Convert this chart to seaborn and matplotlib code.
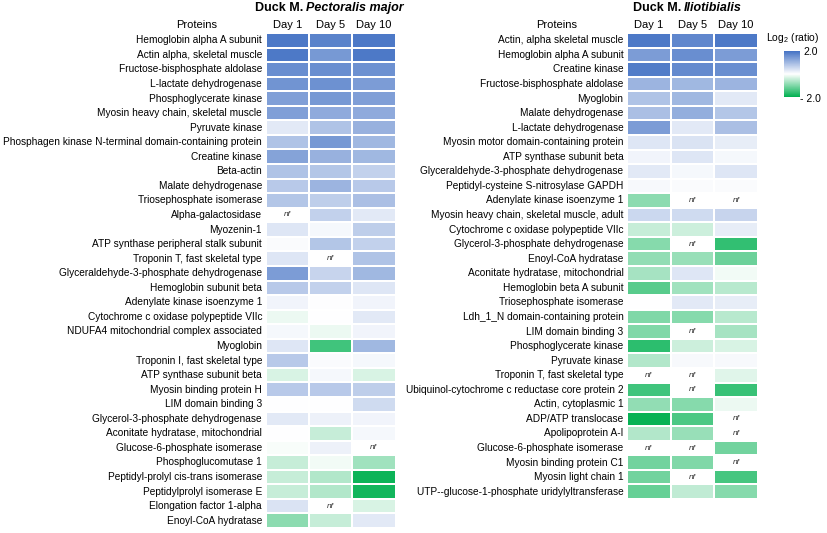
import numpy as np
import pandas as pd
import matplotlib
matplotlib.use("Agg")
import matplotlib.pyplot as plt
from matplotlib.colors import LinearSegmentedColormap, Normalize
from matplotlib.cm import ScalarMappable
import seaborn as sns

plt.rcParams["font.family"] = ["Liberation Sans", "DejaVu Sans"]
plt.rcParams["mathtext.fontset"] = "custom"
plt.rcParams["mathtext.rm"] = "Liberation Sans"

NF = np.nan  # "nf" = not found

DAYS = ["Day 1", "Day 5", "Day 10"]

# ── Duck M. Pectoralis major ─────────────────────────────────────────────
pm_proteins = [
    "Hemoglobin alpha A subunit", "Actin alpha, skeletal muscle",
    "Fructose-bisphosphate aldolase", "L-lactate dehydrogenase",
    "Phosphoglycerate kinase", "Myosin heavy chain, skeletal muscle",
    "Pyruvate kinase", "Phosphagen kinase N-terminal domain-containing protein",
    "Creatine kinase", "Beta-actin", "Malate dehydrogenase",
    "Triosephosphate isomerase", "Alpha-galactosidase", "Myozenin-1",
    "ATP synthase peripheral stalk subunit", "Troponin T, fast skeletal type",
    "Glyceraldehyde-3-phosphate dehydrogenase", "Hemoglobin subunit beta",
    "Adenylate kinase isoenzyme 1", "Cytochrome c oxidase polypeptide VIIc",
    "NDUFA4 mitochondrial complex associated", "Myoglobin",
    "Troponin I, fast skeletal type", "ATP synthase subunit beta",
    "Myosin binding protein H", "LIM domain binding 3",
    "Glycerol-3-phosphate dehydrogenase", "Aconitate hydratase, mitochondrial",
    "Glucose-6-phosphate isomerase", "Phosphoglucomutase 1",
    "Peptidyl-prolyl cis-trans isomerase", "Peptidylprolyl isomerase E",
    "Elongation factor 1-alpha", "Enoyl-CoA hydratase",
]
pm_day1 = [1.9, 1.9, 1.6, 1.5, 1.35, 1.35, 0.3, 0.85, 1.3, 0.85, 0.75, 0.8,
           NF, 0.35, 0.05, 0.35, 1.4, 0.75, 0.15, -0.15, 0.1, 0.35, 0.75,
           -0.3, 0.75, 0.0, 0.3, 0.0, -0.05, -0.45, -0.45, -0.45, 0.4, -0.9]
pm_day5 = [1.75, 1.45, 1.6, 1.55, 1.45, 1.2, 0.85, 1.45, 1.1, 0.8, 1.05, 0.7,
           0.65, 0.1, 0.8, NF, 0.6, 0.65, 0.03, 0.0, -0.15, -1.5, 0.05,
           0.1, 0.75, 0.0, 0.2, -0.45, 0.2, -0.1, -0.6, -0.6, NF, -0.45]
pm_day10 = [1.9, 1.9, 1.55, 1.4, 1.35, 1.2, 1.1, 1.0, 1.0, 0.65, 0.75, 0.9,
            0.3, 0.7, 0.65, 0.85, 1.0, 0.35, 0.15, 0.3, 0.15, 1.0, 0.1,
            -0.3, 0.7, 0.5, 0.15, 0.1, NF, -0.75, -1.9, -1.85, -0.3, 0.3]

# ── Duck M. Iliotibialis ─────────────────────────────────────────────────
il_proteins = [
    "Actin, alpha skeletal muscle", "Hemoglobin alpha A subunit",
    "Creatine kinase", "Fructose-bisphosphate aldolase", "Myoglobin",
    "Malate dehydrogenase", "L-lactate dehydrogenase",
    "Myosin motor domain-containing protein", "ATP synthase subunit beta",
    "Glyceraldehyde-3-phosphate dehydrogenase",
    "Peptidyl-cysteine S-nitrosylase GAPDH", "Adenylate kinase isoenzyme 1",
    "Myosin heavy chain, skeletal muscle, adult",
    "Cytochrome c oxidase polypeptide VIIc",
    "Glycerol-3-phosphate dehydrogenase", "Enoyl-CoA hydratase",
    "Aconitate hydratase, mitochondrial", "Hemoglobin beta A subunit",
    "Triosephosphate isomerase", "Ldh_1_N domain-containing protein",
    "LIM domain binding 3", "Phosphoglycerate kinase", "Pyruvate kinase",
    "Troponin T, fast skeletal type",
    "Ubiquinol-cytochrome c reductase core protein 2", "Actin, cytoplasmic 1",
    "ADP/ATP translocase", "Apolipoprotein A-I",
    "Glucose-6-phosphate isomerase", "Myosin binding protein C1",
    "Myosin light chain 1", "UTP--glucose-1-phosphate uridylyltransferase",
]
il_day1 = [1.9, 1.4, 1.85, 1.05, 0.85, 0.9, 1.4, 0.35, 0.15, 0.3, 0.08, -0.9,
           0.55, -0.45, -0.95, -0.85, -0.7, -1.3, 0.0, -1.0, -1.0, -1.65,
           -0.6, NF, -1.5, -0.85, -1.95, -0.6, NF, -1.1, -1.1, -1.2]
il_day5 = [1.7, 1.6, 1.65, 1.0, 1.0, 1.15, 0.3, 0.4, 0.35, 0.1, 0.05, NF,
           0.5, -0.4, NF, -0.8, 0.35, -0.75, 0.3, -0.95, NF, -0.4,
           0.08, NF, NF, -0.95, -1.4, -0.8, NF, -1.0, NF, -0.5]
il_day10 = [1.9, 1.4, 1.6, 1.05, 0.3, 0.8, 0.9, 0.25, 0.1, 0.35, 0.05, NF,
            0.6, 0.25, -1.6, -1.15, -0.1, -0.55, 0.25, -0.55, -0.7, -0.3,
            0.08, -0.25, -1.55, -0.15, NF, NF, -1.1, NF, -1.45, -0.95]

CMAP = LinearSegmentedColormap.from_list("log2", ["#00B050", "#FFFFFF", "#4472C4"])
W, H = 827, 533


def px_axes(fig, x0, y0, x1, y1):
    # pixel box (top-left origin) -> figure axes
    return fig.add_axes([x0 / W, 1 - y1 / H, (x1 - x0) / W, (y1 - y0) / H])


def draw_panel(ax, proteins, d1, d5, d10):
    df = pd.DataFrame({"Day 1": d1, "Day 5": d5, "Day 10": d10}, index=proteins)
    sns.heatmap(df, cmap=CMAP, vmin=-2, vmax=2, center=0, mask=df.isna(),
                cbar=False, linewidths=1.3, linecolor="white", ax=ax)
    for i, row in enumerate(df.values):
        for j, v in enumerate(row):
            if np.isnan(v):
                ax.text(j + 0.5, i + 0.5, "nf", ha="center", va="center",
                        fontsize=6, style="italic", color="#333333")
    ax.xaxis.tick_top()
    ax.tick_params(length=0, pad=2)
    ax.set_xticklabels(DAYS, rotation=0, fontsize=8)
    ax.set_yticklabels(proteins, rotation=0, fontsize=7.25)
    ax.tick_params(axis="y", pad=2.5)
    ax.set_xlabel("")
    ax.set_ylabel("")


def title(fig, x_split, y, normal, italic):
    fig.text(x_split / W, 1 - y / H, normal, ha="right", va="center",
             fontsize=9, fontweight="bold")
    fig.text((x_split + 3) / W, 1 - y / H, italic, ha="left", va="center",
             fontsize=9, fontweight="bold", style="italic")


fig = plt.figure(figsize=(W / 100, H / 100), dpi=100)

ax1 = px_axes(fig, 265.5, 33, 395.5, 528)
draw_panel(ax1, pm_proteins, pm_day1, pm_day5, pm_day10)
ax2 = px_axes(fig, 627, 33, 758, 499)
draw_panel(ax2, il_proteins, il_day1, il_day5, il_day10)

title(fig, 303, 8, "Duck M.", "Pectoralis major")
title(fig, 681, 8, "Duck M.", "Iliotibialis")
fig.text(197 / W, 1 - 25 / H, "Proteins", ha="center", va="center", fontsize=8)
fig.text(557 / W, 1 - 25 / H, "Proteins", ha="center", va="center", fontsize=8)

# colour scale
cax = px_axes(fig, 784, 51, 800, 97)
cb = fig.colorbar(ScalarMappable(norm=Normalize(-2, 2), cmap=CMAP), cax=cax)
cb.outline.set_visible(False)
cb.set_ticks([])
fig.text(793 / W, 1 - 38 / H, "Log$_2$ (ratio)", ha="center", va="center",
         fontsize=7.5)
fig.text(803 / W, 1 - 52 / H, "2.0", ha="left", va="center", fontsize=7.5)
fig.text(800 / W, 1 - 99 / H, "- 2.0", ha="left", va="center", fontsize=7.5)

fig.savefig("out.png", dpi=100)
